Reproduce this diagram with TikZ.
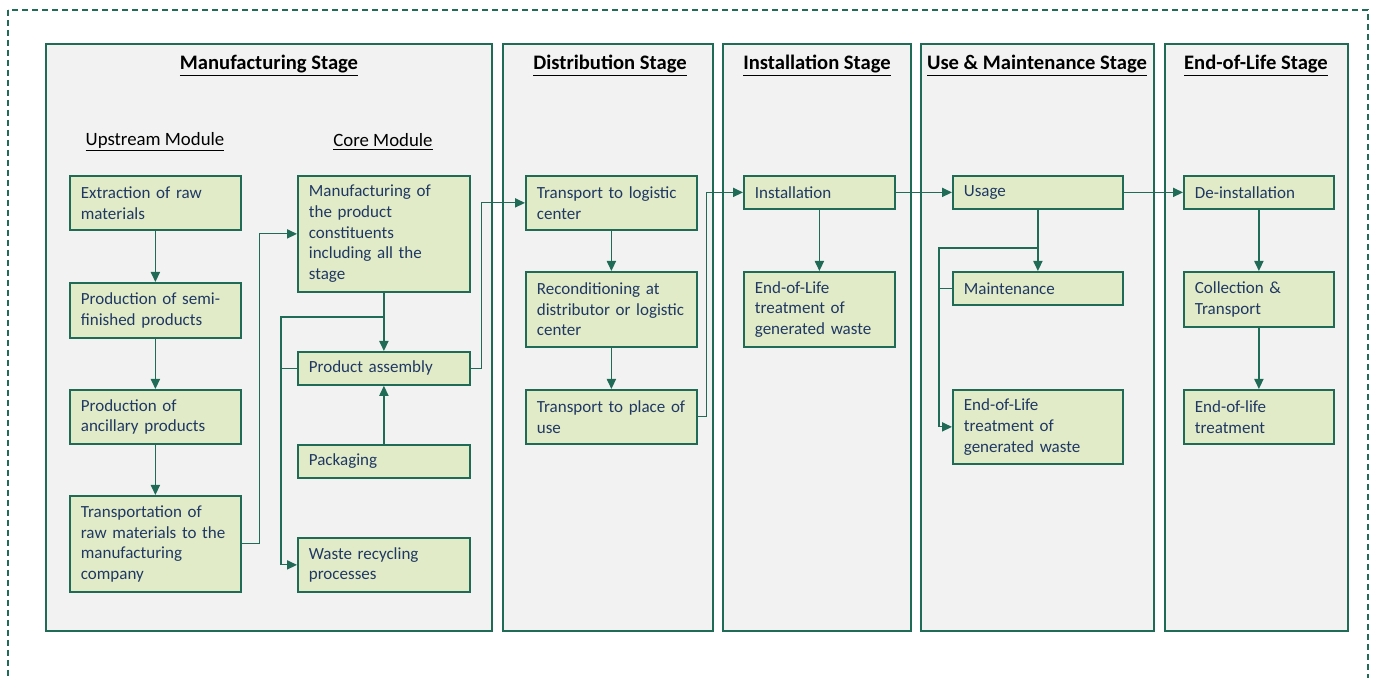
\documentclass[tikz,border=0pt]{standalone}
\usepackage{fontspec}
\setmainfont{Carlito}
\usetikzlibrary{arrows.meta}
\definecolor{dkgreen}{HTML}{1F6B55}
\definecolor{boxfill}{HTML}{E2EBC7}
\definecolor{panelfill}{HTML}{F2F2F2}
\definecolor{navy}{HTML}{1F3864}
\tikzset{
  panel/.style={draw=dkgreen, fill=panelfill, line width=0.75pt},
  stagetitle/.style={font=\fontsize{10.3}{12}\selectfont\bfseries, text=black},
  modtitle/.style={font=\fontsize{9.4}{11}\selectfont, text=black},
  box/.style={draw=dkgreen, fill=boxfill, line width=0.9pt, anchor=north west,
    align=left, inner xsep=5.5pt, inner ysep=2pt, text=navy,
    font=\fontsize{8.5}{10.35}\selectfont},
  upbox/.style={box, text width=74.5pt},
  corebox/.style={box, text width=75pt},
  distbox/.style={box, text width=74.5pt},
  instbox/.style={box, text width=64.5pt},
  usebox/.style={box, text width=74pt},
  eolbox/.style={box, text width=64pt},
  link/.style={draw=dkgreen, line width=0.6pt},
  arr/.style={link, -{Triangle[length=5pt,width=4.6pt]}}
}
\begin{document}
\begin{tikzpicture}[x=0.5pt, y=-0.5pt]
    \useasboundingbox (0,0) rectangle (1373,678);
    \begin{scope}
    \clip (0,0) rectangle (1373,678);
    \draw[dkgreen, line width=0.7pt, dash pattern=on 3pt off 2pt] (8,10) rectangle (1368,700);
    \end{scope}

    \draw[panel] (46,44) rectangle (492,631);
    \draw[panel] (503,44) rectangle (713,631);
    \draw[panel] (723,44) rectangle (911,631);
    \draw[panel] (921,44) rectangle (1154,631);
    \draw[panel] (1165,44) rectangle (1348,631);

    \node[stagetitle] (tman) at (269,66) {\underline{Manufacturing Stage}};
    \node[stagetitle] (tdist) at (610,66) {\underline{Distribution Stage}};
    \node[stagetitle] (tinst) at (817,66) {\underline{Installation Stage}};
    \node[stagetitle] (tuse) at (1037,66) {\underline{Use \& Maintenance Stage}};
    \node[stagetitle] (teol) at (1256,66) {\underline{End-of-Life Stage}};
    \node[modtitle] (tup) at (155,142) {\underline{Upstream Module}};
    \node[modtitle] (tcore) at (383,142) {\underline{Core Module}};

    \node[upbox, minimum height=27pt] (extr) at (69,175) {Extraction of raw\\materials};
    \node[upbox, minimum height=27.5pt] (semi) at (69,282) {Production of semi-\\finished products};
    \node[upbox, minimum height=27pt] (anc) at (69,389) {Production of\\ancillary products};
    \node[upbox, minimum height=48pt] (rawtr) at (69,495) {Transportation of\\raw materials to the\\manufacturing\\company};

    \node[corebox, minimum height=58pt] (manuf) at (297,175) {Manufacturing of\\the product\\constituents\\including all the\\stage};
    \node[corebox, minimum height=16.5pt] (assy) at (297,351) {Product assembly};
    \node[corebox, minimum height=16.5pt] (pack) at (297,444) {Packaging};
    \node[corebox, minimum height=27pt] (waste) at (297,537) {Waste recycling\\processes};

    \node[distbox, minimum height=27pt] (tlog) at (525,175) {Transport to logistic\\center};
    \node[distbox, minimum height=37.5pt] (recond) at (525,271) {Reconditioning at\\distributor or logistic\\center};
    \node[distbox, minimum height=27pt] (tplace) at (525,389) {Transport to place of\\use};

    \node[instbox, minimum height=16.5pt] (inst) at (743,175) {Installation};
    \node[instbox, minimum height=37.5pt] (ieol) at (743,271) {End-of-Life\\treatment of\\generated waste};

    \node[usebox, minimum height=16.5pt] (usage) at (952,175) {Usage};
    \node[usebox, minimum height=16.5pt] (maint) at (952,271) {Maintenance};
    \node[usebox, minimum height=37pt] (ueol) at (952,389) {End-of-Life\\treatment of\\generated waste};

    \node[eolbox, minimum height=16.5pt] (deinst) at (1183,175) {De-installation};
    \node[eolbox, minimum height=27.5pt] (coll) at (1183,271) {Collection \&\\Transport};
    \node[eolbox, minimum height=27pt] (eoltr) at (1183,389) {End-of-life\\treatment};

    \draw[arr] (extr) -- (semi);
    \draw[arr] (semi) -- (anc);
    \draw[arr] (anc) -- (rawtr);
    \draw[arr] (rawtr.east) -- ++(18,0) |- (manuf.west);

    \coordinate (ctap) at (manuf.south |- 0,317);
    \coordinate (cbus) at (281,317);
    \draw[arr] (manuf) -- (assy);
    \draw[arr] (ctap) -- (cbus) |- (waste.west);
    \draw[link] (assy.west) -- (assy.west -| cbus);
    \draw[arr] (pack) -- (assy);
    \draw[arr] (assy.east) -- ++(11,0) |- (tlog.west);

    \draw[arr] (tlog) -- (recond);
    \draw[arr] (recond) -- (tplace);
    \draw[arr] (tplace.east) -- ++(9,0) |- (inst.west);

    \draw[arr] (inst) -- (ieol);
    \draw[arr] (inst) -- (usage);

    \coordinate (utap) at (usage.south |- 0,248);
    \coordinate (ubus) at (939,248);
    \draw[arr] (usage) -- (maint);
    \draw[arr] (utap) -- (ubus) |- (ueol.west);
    \draw[link] (maint.west) -- (maint.west -| ubus);
    \draw[arr] (usage) -- (deinst);

    \draw[arr] (deinst) -- (coll);
    \draw[arr] (coll) -- (eoltr);
\end{tikzpicture}
\end{document}
